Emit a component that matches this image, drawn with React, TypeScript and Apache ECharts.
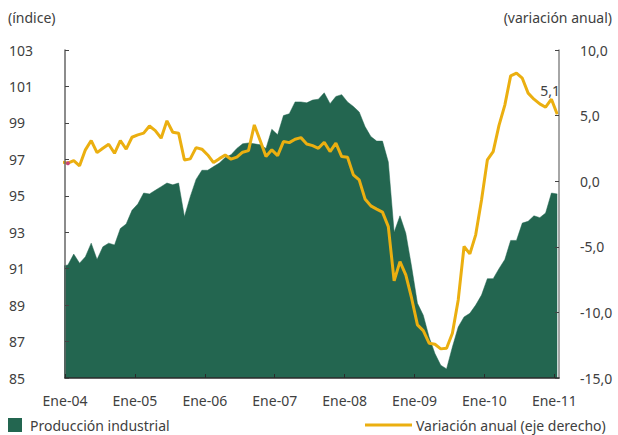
import React, { useEffect, useRef } from 'react';
import * as echarts from 'echarts';

// Year tick labels (every 12 months, starting January 2004)
const tickLabels = ['Ene-04', 'Ene-05', 'Ene-06', 'Ene-07', 'Ene-08', 'Ene-09', 'Ene-10', 'Ene-11'];

// Monthly values from Dic-03 to Ene-11
const produccion = [
  91.15, 91.2, 91.8, 91.3, 91.65, 92.4, 91.5, 92.2, 92.4, 92.3, 93.2, 93.45, 94.2,
  94.55, 95.15, 95.1, 95.3, 95.5, 95.7, 95.6, 95.7, 93.85, 94.95, 95.9, 96.4,
  96.4, 96.6, 96.8, 97.1, 97.25, 97.6, 97.85, 97.9, 97.85, 97.8, 97.6, 98.65,
  98.35, 99.4, 99.5, 100.15, 100.15, 100.1, 100.25, 100.3, 100.65, 100.05, 100.45, 100.55,
  100.15, 99.9, 99.6, 98.8, 98.25, 98.0, 98.0, 96.85, 93.0, 93.9, 92.95, 91.1,
  89.1, 88.45, 87.25, 86.35, 85.7, 85.5, 86.7, 87.8, 88.35, 88.55, 89.0, 89.55,
  90.45, 90.45, 91.0, 91.5, 92.55, 92.55, 93.5, 93.6, 93.9, 93.8, 94.05, 95.15,
  95.1,
];

const variacion = [
  1.45, 1.37, 1.57, 1.17, 2.39, 3.1, 2.18, 2.51, 2.82, 2.13, 3.1, 2.44, 3.35,
  3.53, 3.66, 4.21, 3.86, 3.28, 4.6, 3.73, 3.66, 1.62, 1.7, 2.56, 2.44,
  2.0, 1.42, 1.72, 2.0, 1.68, 1.83, 2.21, 2.33, 4.29, 3.1, 1.88, 2.39,
  1.95, 3.02, 2.94, 3.2, 3.32, 2.84, 2.71, 2.51, 2.97, 2.26, 2.9, 1.88,
  1.83, 0.48, 0.1, -1.35, -1.88, -2.13, -2.36, -3.46, -7.6, -6.13, -7.14, -8.92,
  -10.95, -11.39, -12.35, -12.43, -12.78, -12.73, -11.59, -9.05, -4.98, -5.54, -4.09, -1.43,
  1.62, 2.26, 4.25, 5.8, 8.03, 8.23, 7.85, 6.71, 6.25, 5.89, 5.64, 6.25,
  5.1,
];

export default function App() {
  const ref = useRef<HTMLDivElement>(null);

  useEffect(() => {
    document.body.style.margin = '0';
    const chart = echarts.init(ref.current!, undefined, { renderer: 'svg' });
    const font = 'Noto Sans';
    const textColor = '#404040';
    const green = '#236650';
    const gold = '#EBAF10';

    // month positions: Dic-03 at -0.5, Ene-04 at 0.5 (mid-month)
    const prodData = produccion.map((v, i) => [i - 0.5, v]);
    const varData = variacion.map((v, i) => {
      const item: any = { value: [i - 0.5, v] };
      if (i === 1) {
        item.symbol = 'circle';
        item.symbolSize = 4;
        item.itemStyle = { color: '#C8457A' };
      }
      if (i === variacion.length - 1) {
        item.symbol = 'circle';
        item.symbolSize = 1;
        item.itemStyle = { color: 'rgba(0,0,0,0)' };
        item.label = {
          show: true,
          position: 'top',
          distance: 16,
          offset: [-7, 0],
          formatter: (p: any) => String(p.value[1]).replace('.', ','),
          color: textColor,
          fontSize: 14,
          fontFamily: font,
        };
      }
      return item;
    });

    chart.setOption({
      animation: false,
      textStyle: { fontFamily: font },
      grid: { left: 65, right: 59, top: 50, bottom: 57 },
      xAxis: {
        type: 'value',
        min: 0,
        max: 84.8,
        interval: 12,
        z: 10,
        axisLine: { onZero: false, lineStyle: { color: '#2b2b2b', width: 1.5 } },
        axisTick: { inside: true, length: 4, lineStyle: { color: '#2b2b2b' } },
        splitLine: { show: false },
        axisLabel: {
          margin: 15,
          fontSize: 14,
          color: textColor,
          fontFamily: font,
          showMaxLabel: false,
          formatter: (v: number) => (v % 12 === 0 ? tickLabels[v / 12] ?? '' : ''),
        },
      },
      yAxis: [
        {
          type: 'value',
          min: 85,
          max: 103,
          interval: 2,
          position: 'left',
          z: 10,
          axisLine: { show: true, onZero: false, lineStyle: { color: '#666', width: 1.5 } },
          axisTick: { show: true, inside: true, length: 4, lineStyle: { color: '#444' } },
          splitLine: { show: false },
          axisLabel: {
            margin: 56,
            align: 'left',
            fontSize: 14,
            color: textColor,
            fontFamily: font,
          },
        },
        {
          type: 'value',
          min: -15,
          max: 10,
          interval: 5,
          position: 'right',
          z: 10,
          axisLine: { show: true, onZero: false, lineStyle: { color: '#888', width: 1.5 } },
          axisTick: { show: true, inside: true, length: 4, lineStyle: { color: '#444' } },
          splitLine: { show: false },
          axisLabel: {
            margin: 21,
            align: 'left',
            fontSize: 14,
            color: textColor,
            fontFamily: font,
            formatter: (v: number) => v.toFixed(1).replace('.', ','),
          },
        },
      ],
      series: [
        {
          name: 'Producción industrial',
          type: 'line',
          yAxisIndex: 0,
          data: prodData,
          symbol: 'none',
          clip: true,
          lineStyle: { width: 0.5, color: green },
          areaStyle: { color: green, opacity: 1, origin: 'start' },
          z: 2,
        },
        {
          name: 'Variación anual (eje derecho)',
          type: 'line',
          yAxisIndex: 1,
          data: varData,
          symbol: 'none',
          clip: true,
          lineStyle: { width: 3, color: gold },
          z: 3,
        },
      ],
      graphic: [
        { type: 'text', x: 8, y: 17, style: { text: '(índice)', fontSize: 14, fontFamily: font, fill: textColor, align: 'left', verticalAlign: 'middle' } },
        { type: 'text', x: 612, y: 17, style: { text: '(variación anual)', fontSize: 14, fontFamily: font, fill: textColor, align: 'right', verticalAlign: 'middle' } },
        { type: 'rect', shape: { x: 8, y: 418, width: 14, height: 14 }, style: { fill: green } },
        { type: 'text', x: 30, y: 425, style: { text: 'Producción industrial', fontSize: 14, fontFamily: font, fill: textColor, align: 'left', verticalAlign: 'middle' } },
        { type: 'line', shape: { x1: 365, y1: 425, x2: 412, y2: 425 }, style: { stroke: gold, lineWidth: 3 } },
        { type: 'text', x: 416, y: 425, style: { text: 'Variación anual (eje derecho)', fontSize: 14, fontFamily: font, fill: textColor, align: 'left', verticalAlign: 'middle' } },
      ],
    });

    return () => chart.dispose();
  }, []);

  return <div ref={ref} style={{ width: 618, height: 435 }} />;
}
